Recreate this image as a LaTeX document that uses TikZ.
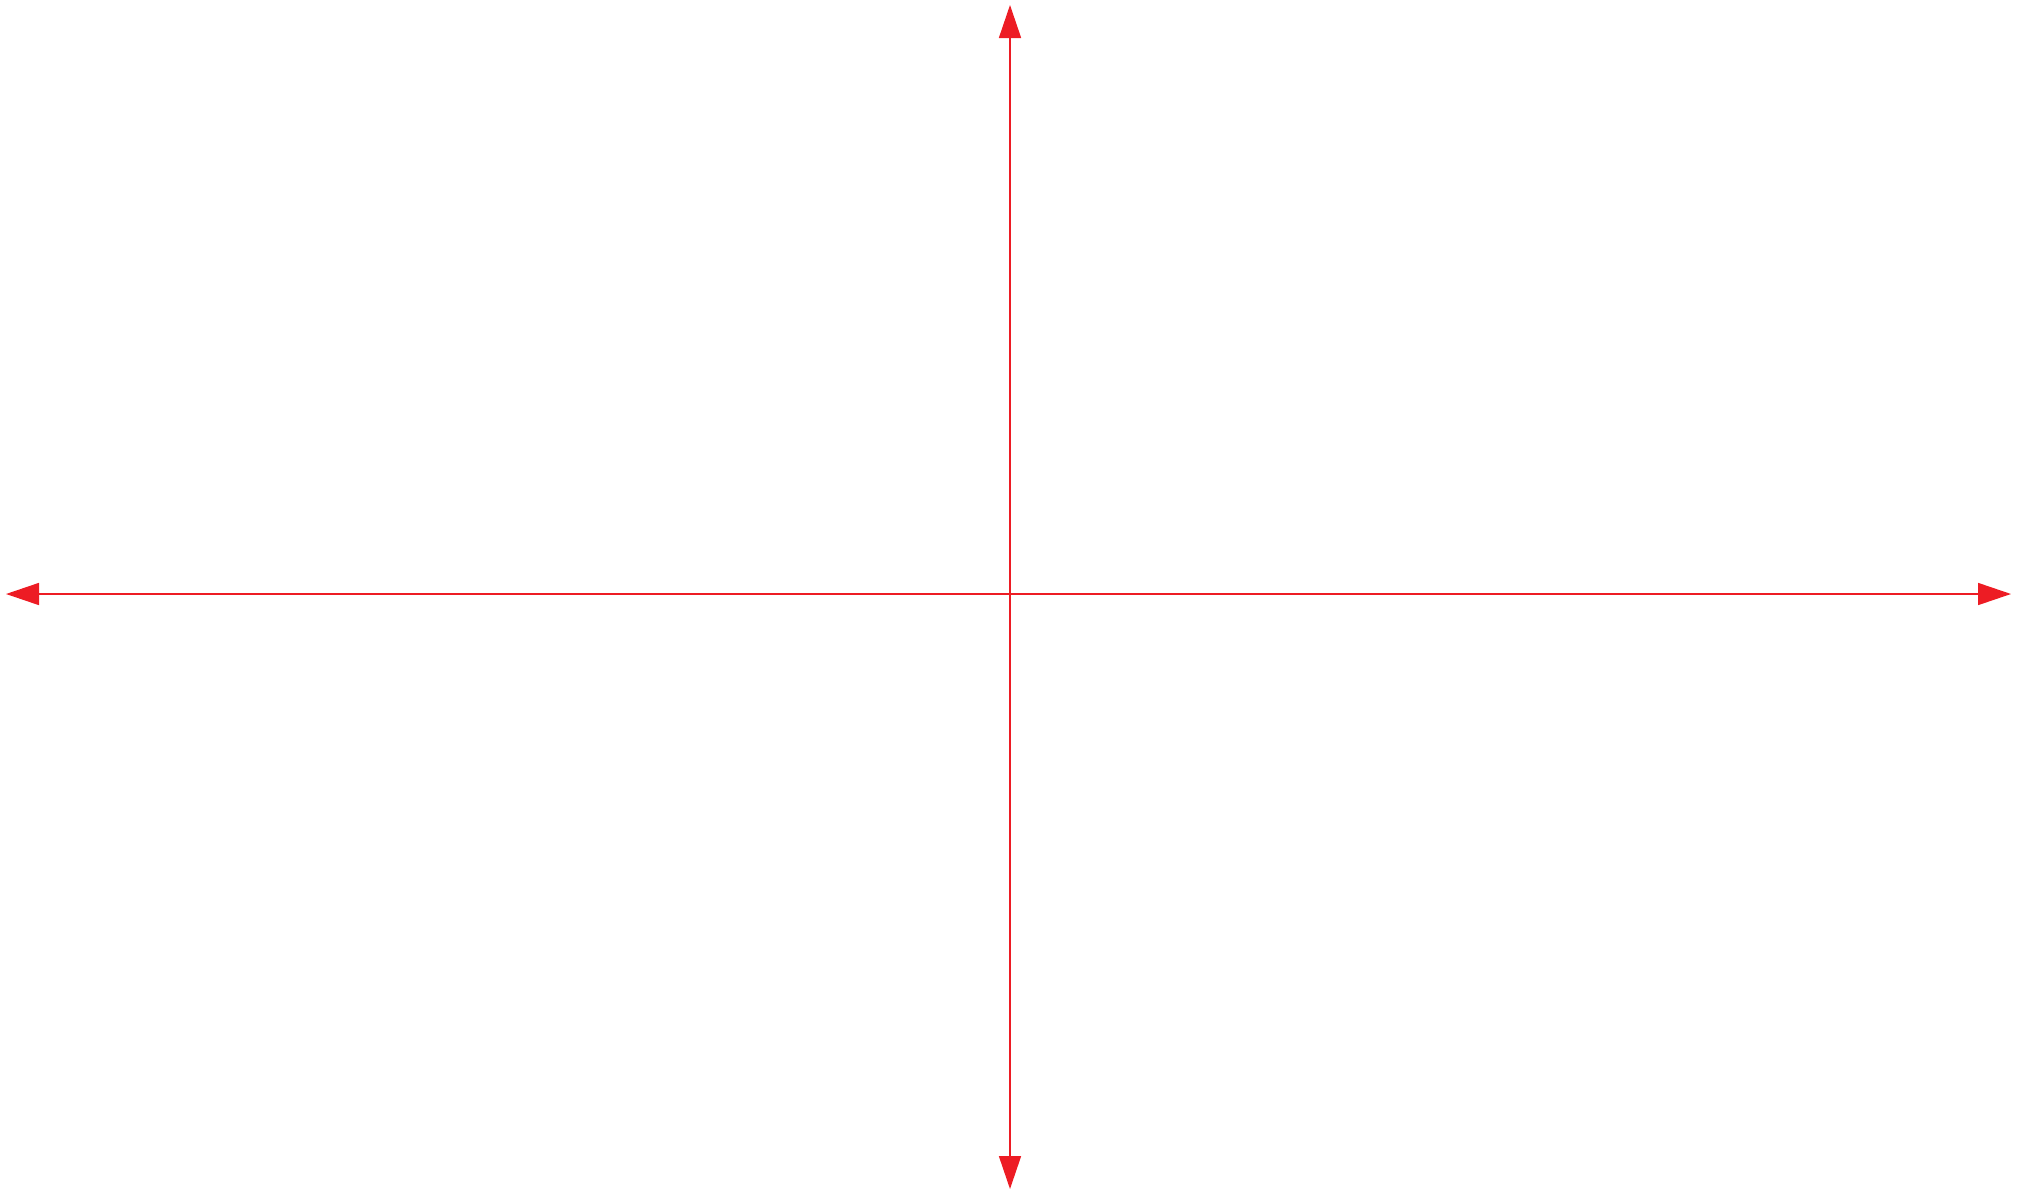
\documentclass[tikz,border=0pt]{standalone}
\usetikzlibrary{arrows.meta}
\definecolor{axisred}{RGB}{237,28,36}
\begin{document}
\begin{tikzpicture}[x=0.5pt,y=-0.5pt,
  axis/.style={draw=axisred, line width=0.8pt,
    {Triangle[length=16.5pt,width=11pt,fill=axisred]}-{Triangle[length=16.5pt,width=11pt,fill=axisred]}}]
\useasboundingbox (0,0) rectangle (2035,1195);
\coordinate (L) at (6,594);
\coordinate (R) at (2011,594);
\coordinate (T) at (1010,5);
\coordinate (B) at (1010,1189);
\draw[axis] (L) -- (R);
\draw[axis] (T) -- (B);
\end{tikzpicture}
\end{document}
